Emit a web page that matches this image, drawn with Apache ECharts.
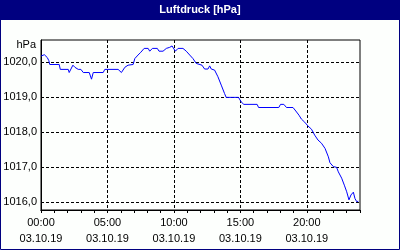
<!DOCTYPE html>
<html>
<head>
<meta charset="utf-8">
<script src="https://cdn.jsdelivr.net/npm/echarts@6/dist/echarts.min.js"></script>
<style>html,body{margin:0;padding:0;background:#fdfffd}#c{width:400px;height:250px}</style>
</head>
<body>
<div id="c"></div>
<script>
// hours since 00:00 on 03.10.19
var hours = [0.00,0.25,0.47,0.59,0.66,1.37,1.45,2.05,2.12,2.40,2.55,2.80,3.00,3.18,3.63,3.80,3.93,4.68,4.80,5.80,6.05,6.31,6.55,6.93,7.06,7.30,7.51,7.76,8.06,8.18,8.38,8.75,8.88,9.18,9.43,9.68,9.86,10.11,10.31,10.68,10.93,11.19,11.43,11.68,11.83,12.11,12.31,12.56,12.69,12.81,13.06,13.31,13.56,13.81,13.93,14.86,15.06,15.26,16.26,16.37,17.89,18.02,18.27,18.47,18.96,19.17,19.41,19.59,19.84,20.09,20.35,20.59,20.84,21.10,21.37,21.62,21.74,22.00,22.24,22.37,22.62,22.82,23.00,23.17,23.32,23.50,23.62,23.75,23.87];
var pressure = [1020.18,1020.22,1020.14,1020.05,1019.94,1019.94,1019.80,1019.80,1019.71,1019.92,1019.86,1019.80,1019.80,1019.71,1019.71,1019.52,1019.71,1019.71,1019.80,1019.80,1019.71,1019.86,1019.92,1019.94,1020.11,1020.21,1020.29,1020.40,1020.40,1020.32,1020.40,1020.40,1020.32,1020.32,1020.40,1020.43,1020.47,1020.32,1020.40,1020.40,1020.32,1020.21,1020.11,1019.97,1019.92,1019.92,1019.81,1019.81,1019.90,1019.81,1019.78,1019.59,1019.35,1019.11,1019.00,1019.00,1018.87,1018.80,1018.80,1018.71,1018.71,1018.80,1018.80,1018.71,1018.71,1018.61,1018.49,1018.38,1018.29,1018.18,1018.09,1017.92,1017.78,1017.69,1017.54,1017.30,1017.13,1017.02,1017.00,1016.87,1016.69,1016.49,1016.30,1016.07,1016.21,1016.29,1016.11,1016.02,1016.03];
var xTickLabels = ['00:00','05:00','10:00','15:00','20:00'];
var dateLabel = '03.10.19';
var titleText = 'Luftdruck [hPa]';
var unitText = 'hPa';

var points = hours.map(function(h, i){ return [h, pressure[i]]; });
var FONT = '"Liberation Sans Narrow", "Liberation Sans", Arial, sans-serif';

var chart = echarts.init(document.getElementById('c'), null, {renderer:'canvas'});
chart.setOption({
  backgroundColor: '#fdfffd',
  animation: false,
  title: {
    text: titleText, left: 'center', top: 3, padding: 0,
    textStyle: {color:'#ffffff', fontSize: 11, fontWeight: 'bold', fontFamily: '"Liberation Sans", Arial, sans-serif', lineHeight: 13}
  },
  graphic: [
    {type:'rect', z: -10, shape:{x:0, y:0, width:400, height:20}, style:{fill:'#000080'}},
    {type:'rect', z: -10, shape:{x:0.5, y:0.5, width:399, height:249}, style:{fill:null, stroke:'#000080', lineWidth:1}}
  ],
  grid: {left: 41, top: 40, right: 40, bottom: 40, show: true, borderColor:'#000', borderWidth:1, backgroundColor:'transparent'},
  xAxis: [{
    type: 'value', min: 0, max: 24, interval: 5, position: 'bottom',
    axisLine: {show: true, lineStyle: {color:'#000', width:1}},
    axisTick: {show: false},
    splitLine: {show: true, showMinLine: false, showMaxLine: false, lineStyle: {color:'#000', type:[3,2], width:1}},
    axisLabel: {
      showMaxLabel: false, margin: 5, color:'#000', fontSize: 11, fontFamily: FONT, lineHeight: 16,
      formatter: function(v){ var i = Math.round(v/5); return (xTickLabels[i] || '') + '\n' + dateLabel; }
    }
  },{
    type: 'value', min: 0, max: 24, interval: 1, position: 'bottom', offset: 0,
    axisLine: {show: true, lineStyle: {color:'#000', width:1}},
    axisTick: {show: true, length: 3, inside: false, lineStyle:{color:'#000'}},
    splitLine: {show: false},
    axisLabel: {show: false}
  }],
  yAxis: {
    type: 'value', min: 1015.78, max: 1020.64, splitNumber: 5,
    name: unitText, nameLocation: 'end', nameGap: -5,
    nameTextStyle: {color:'#000', fontSize: 11, fontFamily: FONT, align:'right', verticalAlign:'middle', padding:[0,5,0,0]},
    axisLine: {show: true, lineStyle: {color:'#000', width:1}},
    axisTick: {show: false},
    splitLine: {show: true, showMinLine: false, showMaxLine: false, lineStyle: {color:'#000', type:[3,2], width:1}},
    axisLabel: {
      showMinLabel: false, showMaxLabel: false, margin: 4, color:'#000', fontSize: 11, fontFamily: FONT,
      formatter: function(v){ return v.toFixed(1).replace('.', ','); }
    }
  },
  series: [{
    type: 'line', xAxisIndex: 0, data: points, showSymbol: false, symbol: 'none',
    lineStyle: {color:'#0000ff', width: 1}, itemStyle:{color:'#0000ff'}
  }]
});
</script>
</body>
</html>
